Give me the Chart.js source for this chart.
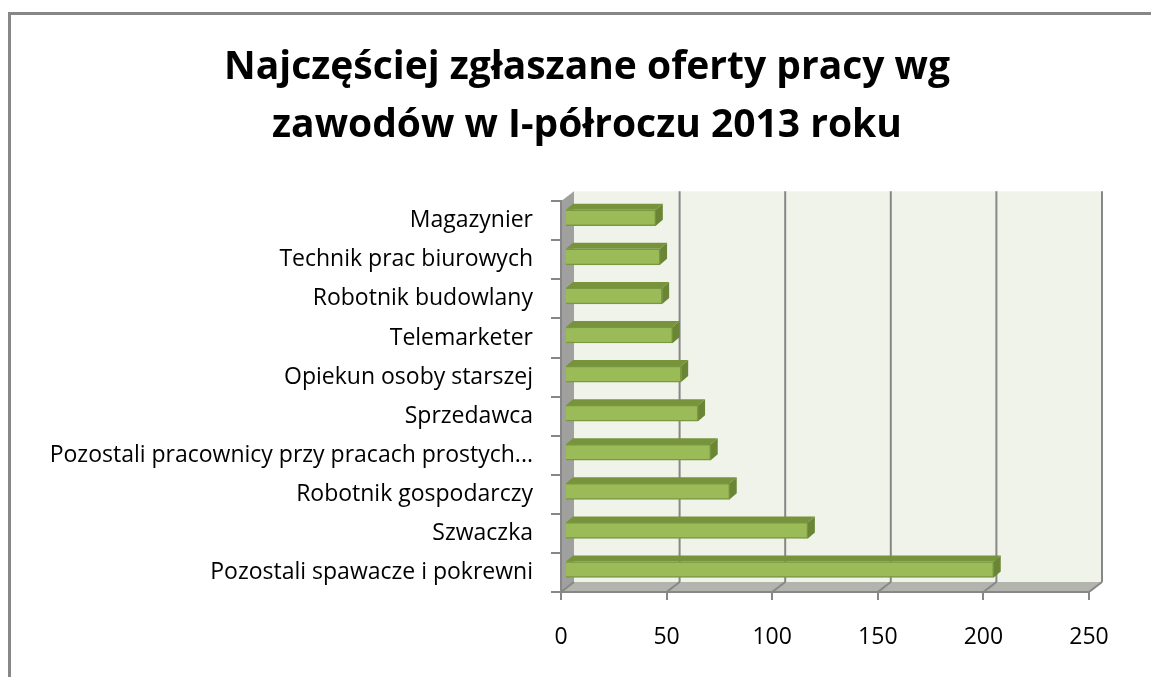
<!DOCTYPE html>
<html>
<head>
  <meta charset="utf-8">
  <title>Najczęściej zgłaszane oferty pracy</title>
  <script src="https://cdn.jsdelivr.net/npm/chart.js"></script>
  <style>
    body {
      margin: 0;
      background-color: white;
    }
    #chart {
      display: block;
    }
  </style>
</head>
<body>
  <canvas id="chart" width="1151" height="677"></canvas>

  <script>
    const titleLines = ['Najczęściej zgłaszane oferty pracy wg', 'zawodów w I-półroczu 2013 roku'];

    const zawody = [
      'Magazynier',
      'Technik prac biurowych',
      'Robotnik budowlany',
      'Telemarketer',
      'Opiekun osoby starszej',
      'Sprzedawca',
      'Pozostali pracownicy przy pracach prostych...',
      'Robotnik gospodarczy',
      'Szwaczka',
      'Pozostali spawacze i pokrewni'
    ];

    const oferty = [43, 45, 46, 51, 55, 63, 69, 78, 115, 203];

    const xTicks = [0, 50, 100, 150, 200, 250];

    const axisGray = '#878787';
    const depth = { dx: 13, dy: -10 };      // glebokosc scian 3D
    const barShift = { dx: 4, dy: -3 };     // przod slupka
    const barDepth = { dx: 7, dy: -6 };     // grubosc slupka

    function poly(ctx, pts, fill) {
      ctx.beginPath();
      ctx.moveTo(pts[0][0], pts[0][1]);
      for (let i = 1; i < pts.length; i++) ctx.lineTo(pts[i][0], pts[i][1]);
      ctx.closePath();
      ctx.fillStyle = fill;
      ctx.fill();
    }

    // ramka, sciany i siatka w stylu wykresu 3D
    const walls = {
      id: 'walls',
      afterLayout(chart) {
        // tytul wysrodkowany nad calym obszarem wykresu jak w Excelu
        chart.titleBlock.left = 85;
        chart.titleBlock.right = chart.chartArea.right;
      },
      beforeDraw(chart) {
        const ctx = chart.ctx;
        const a = chart.chartArea;
        const x = chart.scales.x;
        ctx.save();
        ctx.fillStyle = 'white';
        ctx.fillRect(0, 0, chart.width, chart.height);

        ctx.strokeStyle = axisGray;
        ctx.lineWidth = 3;
        ctx.strokeRect(9.5, 13.5, chart.width + 20, chart.height + 20);

        const L = a.left, R = a.right, T = a.top, B = a.bottom;
        const dx = depth.dx, dy = depth.dy;

        // tylna sciana
        poly(ctx, [[L + dx, T + dy], [R + dx, T + dy], [R + dx, B + dy], [L + dx, B + dy]], '#f0f3ea');
        // podloga
        poly(ctx, [[L, B], [L + dx, B + dy], [R + dx, B + dy], [R, B]], '#b3b4ad');
        // lewa sciana
        poly(ctx, [[L, T], [L + dx, T + dy], [L + dx, B + dy], [L, B]], '#a0a09e');

        ctx.strokeStyle = axisGray;
        ctx.lineWidth = 2;
        xTicks.forEach(v => {
          const px = x.getPixelForValue(v);
          if (v > 0) {
            ctx.beginPath();
            ctx.moveTo(px + dx, T + dy);
            ctx.lineTo(px + dx, B + dy);
            ctx.stroke();
          }
          ctx.beginPath();
          ctx.moveTo(px, B);
          ctx.lineTo(px + dx, B + dy);
          ctx.stroke();
        });
        ctx.restore();
      },
      beforeDatasetsDraw(chart) {
        chart.ctx.save();
        chart.ctx.translate(barShift.dx, barShift.dy);
      },
      afterDatasetsDraw(chart) {
        const ctx = chart.ctx;
        const meta = chart.getDatasetMeta(0);
        meta.data.forEach(bar => {
          const p = bar.getProps(['x', 'y', 'base', 'height'], true);
          const top = p.y - p.height / 2;
          const bot = p.y + p.height / 2;
          const dx = barDepth.dx, dy = barDepth.dy;
          poly(ctx, [[p.base, top], [p.base + dx, top + dy], [p.x + dx, top + dy], [p.x, top]], '#77943d');
          poly(ctx, [[p.x, top], [p.x + dx, top + dy], [p.x + dx, bot + dy], [p.x, bot]], '#6a8634');
        });
        ctx.restore();
      }
    };

    const ctx = document.getElementById('chart').getContext('2d');

    new Chart(ctx, {
      type: 'bar',
      data: {
        labels: zawody,
        datasets: [{
          data: oferty,
          backgroundColor: '#9bbb59',
          borderColor: '#7a9840',
          borderWidth: 1.5,
          barThickness: 16,
          clip: false
        }]
      },
      options: {
        indexAxis: 'y',
        responsive: false,
        animation: false,
        layout: {
          padding: { left: 10, right: 62, top: 0, bottom: 0 }
        },
        scales: {
          x: {
            min: 0,
            max: 250,
            afterFit(scale) { scale.height = 85; },
            afterBuildTicks(scale) { scale.ticks = xTicks.map(v => ({ value: v })); },
            grid: {
              drawOnChartArea: false,
              drawTicks: true,
              tickLength: 8,
              color: axisGray,
              lineWidth: 2
            },
            border: { display: true, color: axisGray, width: 2 },
            ticks: {
              color: '#000',
              padding: 24,
              font: { family: 'Open Sans', size: 23 }
            }
          },
          y: {
            afterFit(scale) { scale.width = 551; },
            grid: {
              offset: true,
              drawOnChartArea: false,
              drawTicks: true,
              tickLength: 10,
              color: axisGray,
              lineWidth: 2
            },
            border: { display: true, color: axisGray, width: 2 },
            ticks: {
              color: '#000',
              padding: 18,
              autoSkip: false,
              font: { family: 'Open Sans', size: 23 }
            }
          }
        },
        plugins: {
          legend: { display: false },
          tooltip: { enabled: false },
          title: {
            display: true,
            text: titleLines,
            color: '#000',
            font: { family: 'Open Sans', size: 39, weight: 'bold', lineHeight: 1.49 },
            padding: { top: 39, bottom: 46 }
          }
        }
      },
      plugins: [walls]
    });
  </script>
</body>
</html>
